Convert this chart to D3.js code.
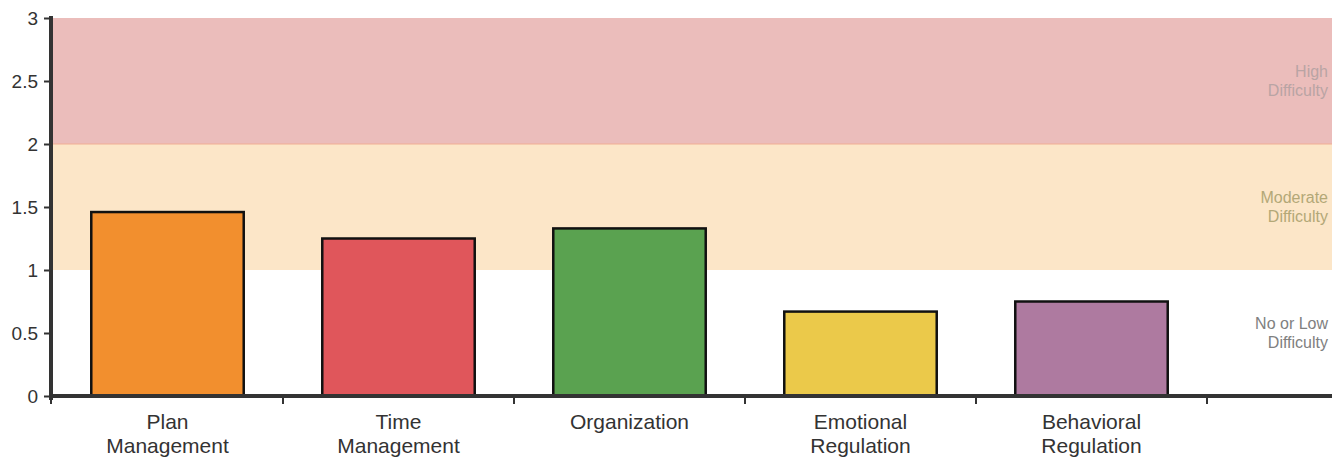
<!DOCTYPE html>
<html>
<head>
<meta charset="utf-8">
<script src="https://cdn.jsdelivr.net/npm/d3@7"></script>
<style>
  body { margin: 0; background: #fff; }
  svg { font-family: "Liberation Sans", Arial, sans-serif; }
</style>
</head>
<body>
<script>
var categories = [["Plan", "Management"], ["Time", "Management"], ["Organization"], ["Emotional", "Regulation"], ["Behavioral", "Regulation"]];
var values = [1.46, 1.25, 1.33, 0.67, 0.75];
var colors = ["#f28f2e", "#e0565b", "#5aa250", "#ebc94a", "#ae7aa0"];
var yTicks = [0, 0.5, 1, 1.5, 2, 2.5, 3];
var zones = [
  {lo: 2, hi: 3, fill: "#ebbdbb", label: ["High", "Difficulty"], text: "#b9a4a4"},
  {lo: 1, hi: 2, fill: "#fce6c8", label: ["Moderate", "Difficulty"], text: "#b3a877"},
  {lo: 0, hi: 1, fill: "none", label: ["No or Low", "Difficulty"], text: "#808080"}
];

var w = 1338;
var h = 461;
var plotLeft = 51, plotRight = 1332, plotTop = 18, plotBottom = 396;

var svg = d3.select("body")
            .append("svg")
            .attr("width", w)
            .attr("height", h);

var yScale = d3.scaleLinear()
              .domain([0, 3])
              .range([plotBottom, plotTop]);

var keys = categories.map(function(c) { return c.join(" "); });
var xScale = d3.scaleBand()
              .domain(keys)
              .range([52, 52 + 231 * keys.length])
              .paddingInner(0.34)
              .paddingOuter(0.17);

// difficulty zones
svg.selectAll("rect.zone")
    .data(zones.filter(function(z) { return z.fill != "none"; }))
    .enter()
    .append("rect")
      .attr("class", "zone")
      .attr("x", plotLeft)
      .attr("width", plotRight - plotLeft)
      .attr("y", function(d) { return yScale(d.hi); })
      .attr("height", function(d) { return yScale(d.lo) - yScale(d.hi); })
      .attr("fill", function(d) { return d.fill; });

svg.append("line")
    .attr("x1", plotLeft).attr("x2", plotRight)
    .attr("y1", yScale(2)).attr("y2", yScale(2))
    .attr("stroke", "#f0ad93")
    .attr("stroke-width", 1);

zones.forEach(function(z) {
  var t = svg.append("text")
      .attr("text-anchor", "end")
      .attr("fill", z.text)
      .style("font-size", "16px")
      .attr("x", plotRight - 4)
      .attr("y", yScale((z.lo + z.hi) / 2) - 4);
  z.label.forEach(function(s, i) {
    t.append("tspan").attr("x", plotRight - 4).attr("dy", i == 0 ? 0 : 18.5).text(s);
  });
});

// bars
svg.selectAll("rect.bar")
    .data(values)
    .enter()
    .append("rect")
      .attr("class", "bar")
      .attr("x", function(d, i) { return xScale(keys[i]); })
      .attr("width", xScale.bandwidth())
      .attr("y", function(d) { return yScale(d); })
      .attr("height", function(d) { return plotBottom - yScale(d); })
      .attr("fill", function(d, i) { return colors[i]; })
      .attr("stroke", "#111")
      .attr("stroke-width", 2.5);

// x axis
svg.append("line")
    .attr("x1", plotLeft - 2).attr("x2", plotRight)
    .attr("y1", plotBottom).attr("y2", plotBottom)
    .attr("stroke", "#333")
    .attr("stroke-width", 4);

var boundaries = keys.map(function(k) { return xScale(k) + xScale.bandwidth() + xScale.step() * 0.17; });
svg.selectAll("line.xtick")
    .data([plotLeft].concat(boundaries))
    .enter()
    .append("line")
      .attr("class", "xtick")
      .attr("x1", function(d) { return d; }).attr("x2", function(d) { return d; })
      .attr("y1", plotBottom).attr("y2", plotBottom + 8)
      .attr("stroke", "#333")
      .attr("stroke-width", 2);

svg.selectAll("text.xlabel")
    .data(categories)
    .enter()
    .append("text")
      .attr("class", "xlabel")
      .attr("text-anchor", "middle")
      .attr("fill", "#333")
      .style("font-size", "21px")
      .attr("y", 429)
      .each(function(d, i) {
        var cx = xScale(keys[i]) + xScale.bandwidth() / 2;
        var t = d3.select(this);
        d.forEach(function(s, j) {
          t.append("tspan").attr("x", cx).attr("dy", j == 0 ? 0 : 23.5).text(s);
        });
      });

// y axis
var yAxis = d3.axisLeft(yScale)
              .tickValues(yTicks)
              .tickFormat(d3.format("~g"))
              .tickSize(7)
              .tickPadding(6);

var gy = svg.append("g")
    .attr("class", "axis")
    .attr("transform", "translate(" + plotLeft + ",0)")
    .call(yAxis);

gy.select(".domain")
    .attr("d", "M0," + (plotTop - 2) + "V" + (plotBottom + 4))
    .attr("stroke", "#333")
    .attr("stroke-width", 4);
gy.selectAll(".tick line").attr("stroke", "#333").attr("stroke-width", 2);
gy.selectAll(".tick text")
    .attr("fill", "#333")
    .style("font-size", "19px")
    .style("font-family", "Liberation Sans, Arial, sans-serif");
</script>
</body>
</html>
